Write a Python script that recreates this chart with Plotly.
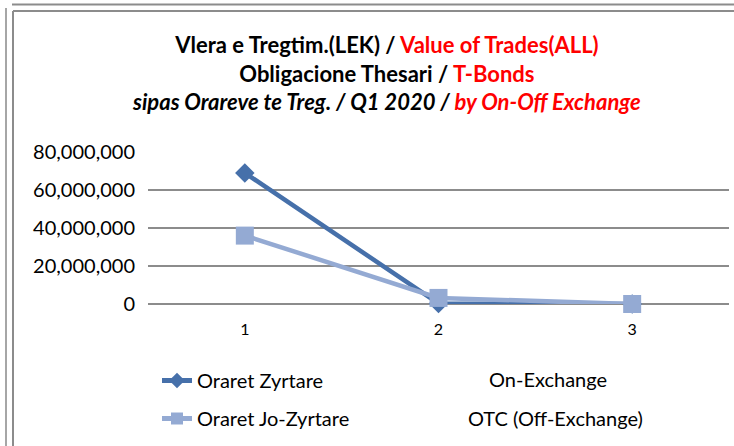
import plotly.graph_objects as go

categories = [1, 2, 3]
oraret_zyrtare = [69000000, 300000, 0]
oraret_jo_zyrtare = [36000000, 3200000, 0]
y_ticks = [0, 20000000, 40000000, 60000000, 80000000]

W, H = 734, 446
L, R, T, B = 148, 5, 152, 142


def px(x):
    return (x - L) / (W - L - R)


def py(y):
    return (H - B - y) / (H - T - B)


fnt = "Lato"
dark = "#4670AA"
light = "#94AAD3"

fig = go.Figure()
fig.add_trace(go.Scatter(x=categories, y=oraret_zyrtare, name="Oraret Zyrtare",
                         mode="lines+markers", legendgroup="a", cliponaxis=False,
                         line=dict(color=dark, width=4.5),
                         marker=dict(symbol="diamond", size=15, color=dark)))
fig.add_trace(go.Scatter(x=categories, y=oraret_jo_zyrtare, name="Oraret Jo-Zyrtare",
                         mode="lines+markers", legendgroup="b", cliponaxis=False,
                         line=dict(color=light, width=4.5),
                         marker=dict(symbol="square", size=18, color=light)))

title = ("<b>Vlera e Tregtim.(LEK) / <span style='color:#FF0000'>Value of Trades(ALL)</span></b><br>"
         "<b>Obligacione Thesari / <span style='color:#FF0000'>T-Bonds</span></b><br>"
         "<b><i>sipas Orareve te Treg. / Q1 2020 / <span style='color:#FF0000'>by On-Off Exchange</span></i></b>")

border = "#8C8C8C"
shapes = [
    dict(type="line", xref="paper", yref="paper", x0=px(12), x1=px(734), y0=py(4.5), y1=py(4.5),
         line=dict(color=border, width=2)),
    dict(type="line", xref="paper", yref="paper", x0=px(13), x1=px(734), y0=py(11), y1=py(11),
         line=dict(color=border, width=2)),
    dict(type="line", xref="paper", yref="paper", x0=px(6), x1=px(6), y0=py(8), y1=py(446),
         line=dict(color="#A6A6A6", width=2)),
    dict(type="line", xref="paper", yref="paper", x0=px(13), x1=px(13), y0=py(11), y1=py(446),
         line=dict(color=border, width=2)),
]

annotations = [
    dict(text=title, x=px(386), y=py(73), xref="paper", yref="paper", showarrow=False,
         xanchor="center", yanchor="middle", align="center",
         font=dict(family=fnt, size=22, color="black")),
    dict(text="On-Exchange", x=px(548), y=py(379), xref="paper", yref="paper", showarrow=False,
         xanchor="center", yanchor="middle", font=dict(family=fnt, size=20, color="black")),
    dict(text="OTC (Off-Exchange)", x=px(555), y=py(418), xref="paper", yref="paper", showarrow=False,
         xanchor="center", yanchor="middle", font=dict(family=fnt, size=20, color="black")),
]

fig.update_layout(
    width=W, height=H,
    margin=dict(l=L, r=R, t=T, b=B),
    paper_bgcolor="white", plot_bgcolor="white",
    font=dict(family=fnt, size=20, color="black"),
    showlegend=True,
    legend=dict(x=px(157), y=py(361), xanchor="left", yanchor="top",
                orientation="v", tracegroupgap=9, itemsizing="constant",
                font=dict(family=fnt, size=20, color="black"),
                bgcolor="rgba(0,0,0,0)"),
    shapes=shapes,
    annotations=annotations,
    xaxis=dict(range=[0.5, 3.5], tickvals=categories, ticktext=[str(c) for c in categories],
               showgrid=False, zeroline=False, showline=False,
               tickfont=dict(family=fnt, size=16, color="black"), ticklabelstandoff=14),
    yaxis=dict(range=[0, 80000000], tickvals=y_ticks, tickformat=",d",
               showgrid=True, gridcolor="#8C8C8C", gridwidth=1.5,
               zeroline=True, zerolinecolor="#8C8C8C", zerolinewidth=1.5,
               showline=False, ticklabelstandoff=12,
               tickfont=dict(family=fnt, size=20, color="black")),
)

fig.write_html("out.html", config={"displayModeBar": False},
               post_script="document.body.style.margin='0px';")
